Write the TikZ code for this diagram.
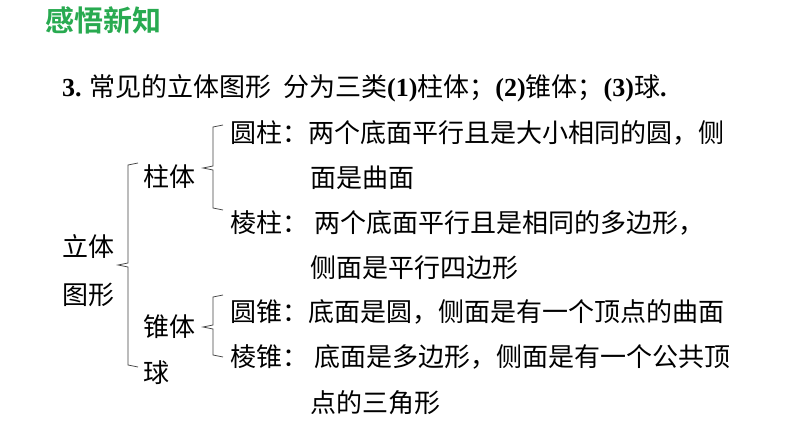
\documentclass[tikz,border=0pt]{standalone}
\usepackage{fontspec}
\setmainfont{Liberation Serif}
\newfontfamily\cjk{Noto Sans CJK SC}
\newfontfamily\cjkb{Noto Sans CJK SC Bold}
\newcommand{\lat}[1]{{\rmfamily\bfseries #1}}
\begin{document}
\begin{tikzpicture}[x=1pt,y=-1pt,
  t/.style={anchor=west,inner sep=0pt,font=\fontsize{26}{26}\selectfont\cjk},
  br/.style={line width=0.7pt,black!75}]
\useasboundingbox (0,0) rectangle (794,447);
\node[anchor=west,inner sep=0pt,text={rgb,255:red,40;green,170;blue,80},font=\fontsize{29}{29}\selectfont\cjkb] (title) at (45,20) {感悟新知};
\node[t] (l0) at (62,88) {\lat{3.} 常见的立体图形\ \ 分为三类\lat{(1)}柱体；\lat{(2)}锥体；\lat{(3)}球\lat{.}};
\node[t] (lt) at (62,247) {立体};
\node[t] (tx) at (62,295) {图形};
\node[t] (zt) at (143,177) {柱体};
\node[t] (zh) at (143,327) {锥体};
\node[t] (qiu) at (143,373) {球};
\node[t] (a1) at (230,133) {圆柱：两个底面平行且是大小相同的圆，侧};
\node[t] (a2) at (310,178) {面是曲面};
\node[t] (b1) at (230,223) {棱柱：\ 两个底面平行且是相同的多边形，};
\node[t] (b2) at (310,268) {侧面是平行四边形};
\node[t] (c1) at (230,312) {圆锥：底面是圆，侧面是有一个顶点的曲面};
\node[t] (d1) at (230,357) {棱锥：\ 底面是多边形，侧面是有一个公共顶};
\node[t] (d2) at (310,403) {点的三角形};
\draw[br] (138,163) -- (128,165) -- (128,263) -- (118,265) -- (128,267) -- (128,365) -- (138,367);
\draw[br] (223,125) -- (213,127) -- (213,166) -- (203,168) -- (213,170) -- (213,208) -- (223,210);
\draw[br] (223,295) -- (213,297) -- (213,325) -- (203,327) -- (213,329) -- (213,355) -- (223,357);
\end{tikzpicture}
\end{document}
